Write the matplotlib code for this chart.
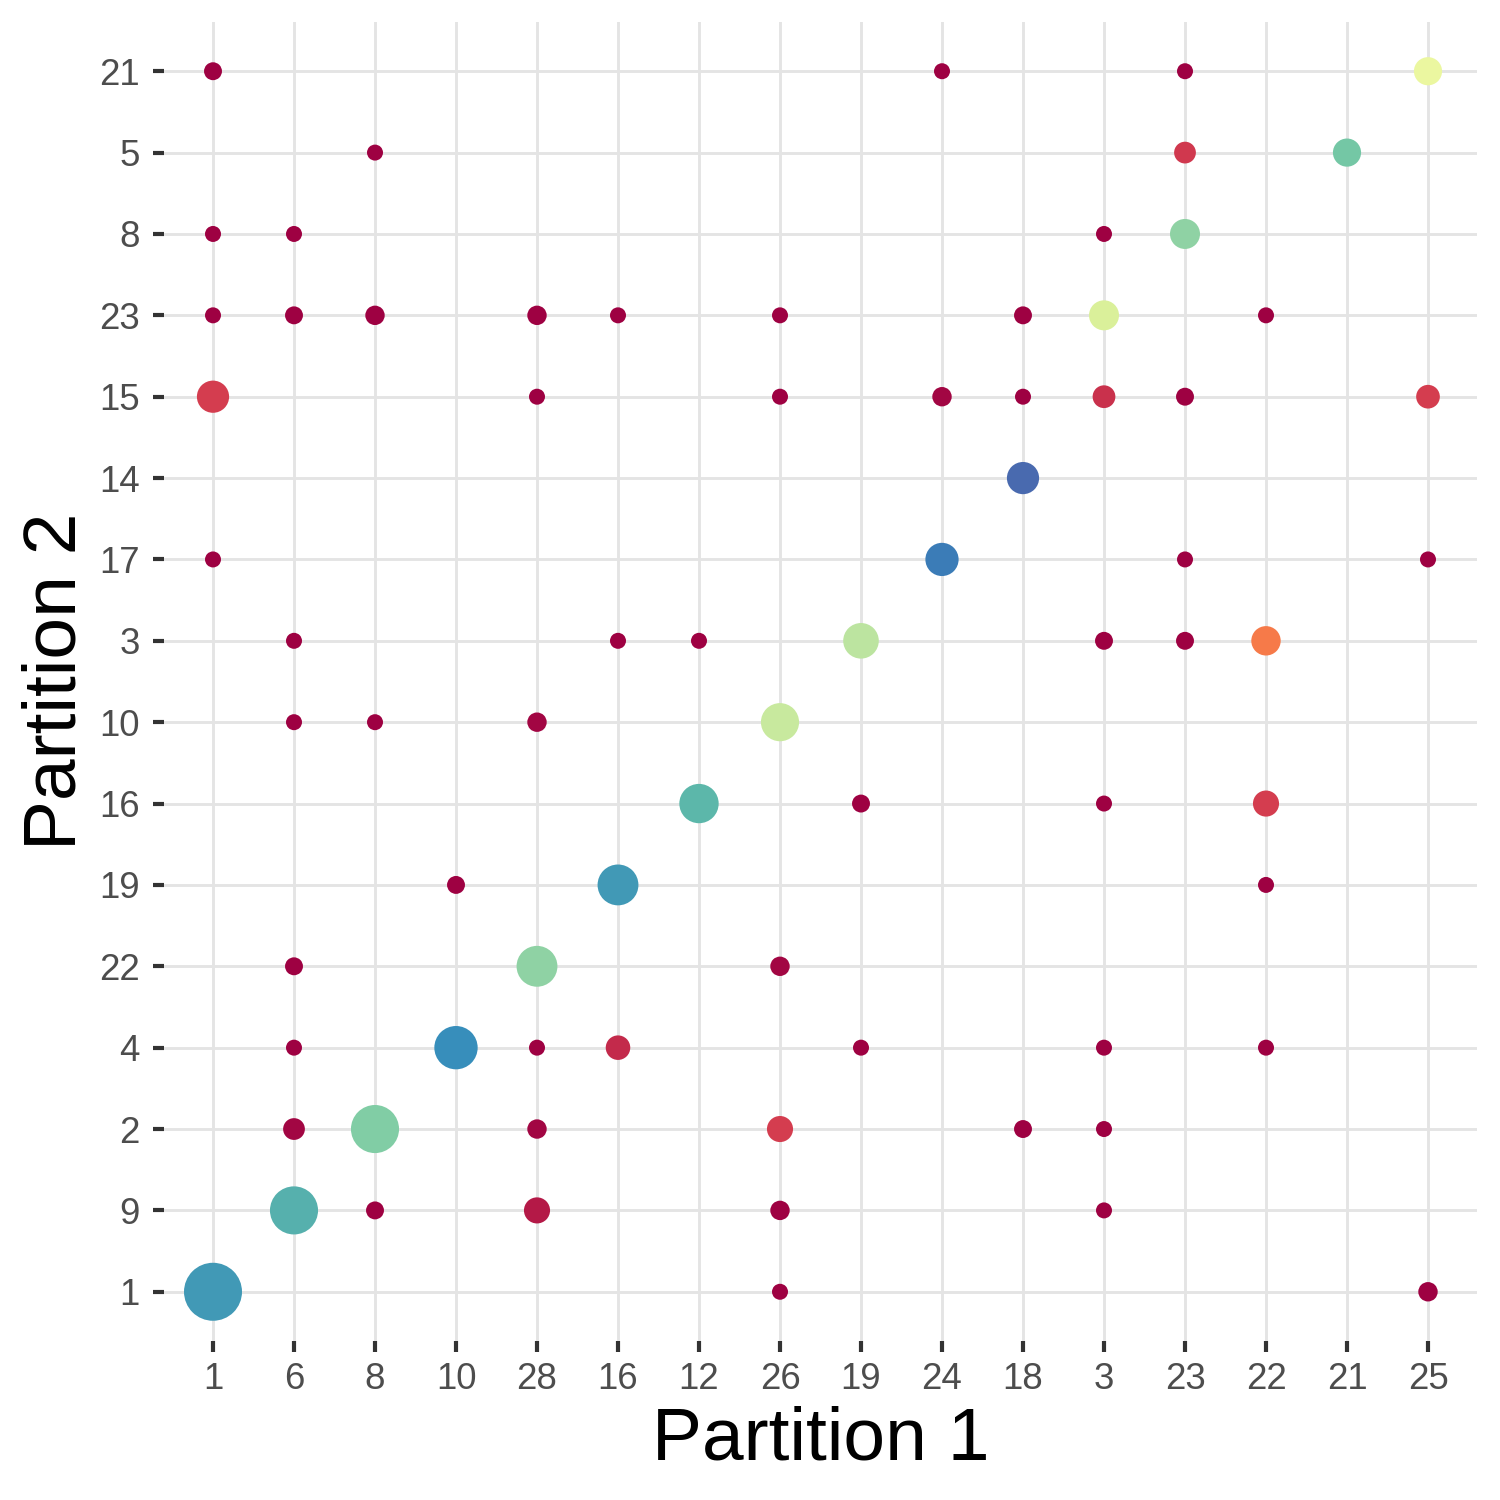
import numpy as np
import matplotlib.pyplot as plt

plt.rcParams['font.family'] = ['Liberation Sans', 'DejaVu Sans']

# category order on each axis
x_levels = ['1', '6', '8', '10', '28', '16', '12', '26', '19', '24', '18', '3', '23', '22', '21', '25']
y_levels = ['1', '9', '2', '4', '22', '19', '16', '10', '3', '17', '14', '15', '23', '8', '5', '21']

# one entry per point: partition 1 cluster, partition 2 cluster, shared cells, overlap fraction
p1 = ['1', '24', '23', '25',
      '8', '23', '21',
      '1', '6', '3', '23',
      '1', '6', '8', '28', '16', '26', '18', '3', '22',
      '1', '28', '26', '24', '18', '3', '23', '25',
      '18',
      '1', '24', '23', '25',
      '6', '16', '12', '19', '3', '23', '22',
      '6', '8', '28', '26',
      '12', '19', '3', '22',
      '10', '16', '22',
      '6', '28', '26',
      '6', '10', '28', '16', '19', '3', '22',
      '6', '8', '28', '26', '18', '3',
      '6', '8', '28', '26', '3',
      '1', '26', '25']
p2 = ['21', '21', '21', '21',
      '5', '5', '5',
      '8', '8', '8', '8',
      '23', '23', '23', '23', '23', '23', '23', '23', '23',
      '15', '15', '15', '15', '15', '15', '15', '15',
      '14',
      '17', '17', '17', '17',
      '3', '3', '3', '3', '3', '3', '3',
      '10', '10', '10', '10',
      '16', '16', '16', '16',
      '19', '19', '19',
      '22', '22', '22',
      '4', '4', '4', '4', '4', '4', '4',
      '2', '2', '2', '2', '2', '2',
      '9', '9', '9', '9', '9',
      '1', '1', '1']
n_cells = [2, 1, 1, 13,
           1, 5, 13,
           1, 1, 1, 16,
           1, 2, 3, 3, 1, 1, 2, 16, 1,
           20, 1, 1, 3, 1, 6, 2, 7,
           20,
           1, 22, 1, 1,
           1, 1, 1, 27, 2, 2, 15,
           1, 1, 3, 33,
           36, 2, 1, 10,
           2, 40, 1,
           2, 40, 3,
           1, 47, 1, 8, 1, 1, 1,
           5, 62, 3, 10, 2, 1,
           62, 2, 10, 3, 1,
           100, 1, 3]
overlap = [0.0, 0.0, 0.0, 0.58,
           0.0, 0.09, 0.78,
           0.0, 0.0, 0.0, 0.74,
           0.0, 0.0, 0.0, 0.0, 0.0, 0.0, 0.0, 0.62, 0.0,
           0.1, 0.0, 0.0, 0.01, 0.0, 0.08, 0.0, 0.1,
           0.95,
           0.0, 0.92, 0.0, 0.0,
           0.0, 0.0, 0.0, 0.67, 0.0, 0.0, 0.22,
           0.0, 0.0, 0.01, 0.65,
           0.82, 0.0, 0.0, 0.1,
           0.0, 0.87, 0.0,
           0.0, 0.74, 0.01,
           0.0, 0.89, 0.0, 0.07, 0.0, 0.0, 0.0,
           0.01, 0.76, 0.01, 0.1, 0.0, 0.0,
           0.83, 0.0, 0.04, 0.0, 0.0,
           0.87, 0.0, 0.0]

xpos = np.array([x_levels.index(v) for v in p1])
ypos = np.array([y_levels.index(v) for v in p2])
n = np.array(n_cells, dtype=float)

# radius in pixels (300 dpi), sqrt scaling like ggplot's scale_size
r_min, r_max = 8.0, 29.0
r = r_min + (np.sqrt(n) - 1) / (np.sqrt(n.max()) - 1) * (r_max - r_min)
s = (2 * r * 72 / 300) ** 2

fig = plt.figure(figsize=(5, 5), dpi=300)
ax = fig.add_axes([164.4 / 1500, 1 - 1340.6 / 1500, 1312.2 / 1500, 1318.2 / 1500])

ax.scatter(xpos, ypos, s=s, c=overlap, cmap='Spectral', vmin=0, vmax=1,
           linewidths=0, zorder=3)

ax.set_xlim(-0.6, len(x_levels) - 0.4)
ax.set_ylim(-0.6, len(y_levels) - 0.4)
ax.set_xticks(range(len(x_levels)))
ax.set_xticklabels(x_levels)
ax.set_yticks(range(len(y_levels)))
ax.set_yticklabels(y_levels)

ax.grid(True, color='#E4E4E4', lw=0.7)
ax.set_axisbelow(True)
for sp in ax.spines.values():
    sp.set_visible(False)
ax.tick_params(axis='both', length=2.7, width=1.0, color='#333333',
               labelcolor='#4D4D4D', labelsize=8.8)
ax.tick_params(axis='x', pad=2.4)
ax.tick_params(axis='y', pad=3.2)

ax.set_xlabel('Partition 1', fontsize=18, labelpad=2)
ax.set_ylabel('Partition 2', fontsize=18, labelpad=2)

fig.savefig('out.png', dpi=300, facecolor='white')
